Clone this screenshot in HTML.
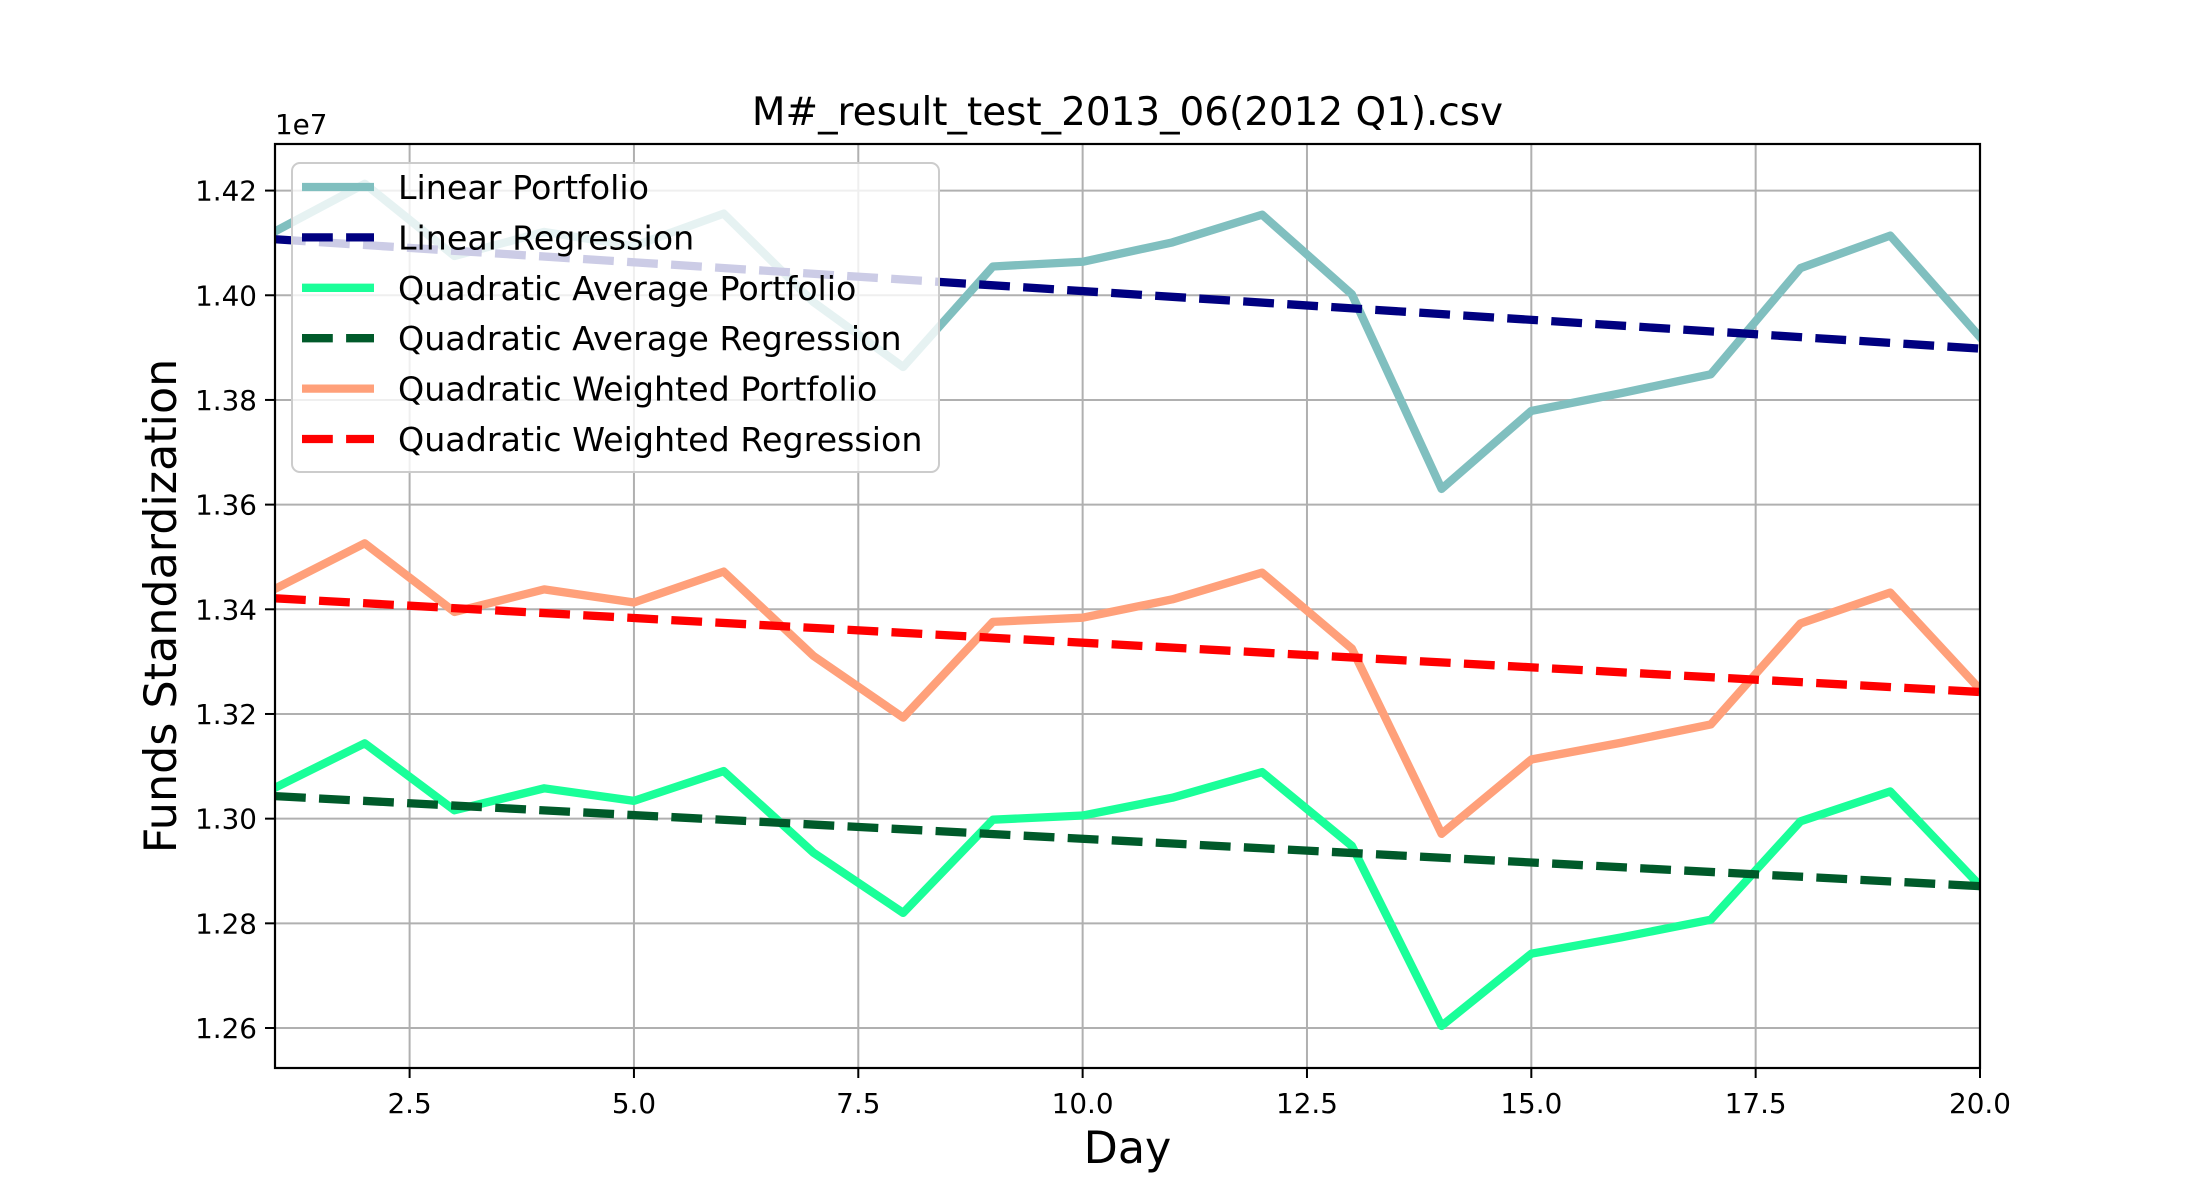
<!DOCTYPE html>
<html><head><meta charset="utf-8"><style>
html,body{margin:0;padding:0;background:#fff;}
svg{display:block;font-family:"DejaVu Sans","Liberation Sans",sans-serif;}
</style></head><body>
<svg id="chart" width="2200" height="1200" xmlns="http://www.w3.org/2000/svg"></svg>
<script>
const days = [1,2,3,4,5,6,7,8,9,10,11,12,13,14,15,16,17,18,19,20];
const linearPortfolio = [1.4122,1.4213,1.4075,1.4121,1.4094,1.4156,1.3987,1.3863,1.4055,1.4064,1.4101,1.4154,1.4002,1.3630,1.3779,1.3813,1.3849,1.4052,1.4114,1.3920];
const linearRegression = [1.4107,1.3898];
const quadAvgPortfolio = [1.3059,1.3144,1.3016,1.3058,1.3034,1.3091,1.2935,1.2820,1.2998,1.3006,1.3040,1.3089,1.2948,1.2604,1.2742,1.2773,1.2807,1.2995,1.3052,1.2872];
const quadAvgRegression = [1.3043,1.2871];
const quadWeightedPortfolio = [1.3439,1.3526,1.3395,1.3438,1.3413,1.3472,1.3311,1.3193,1.3376,1.3384,1.3419,1.3470,1.3325,1.2971,1.3113,1.3145,1.3180,1.3373,1.3432,1.3247];
const quadWeightedRegression = [1.3421,1.3242];
const xTicks = [2.5,5.0,7.5,10.0,12.5,15.0,17.5,20.0];
const yTicks = [1.26,1.28,1.30,1.32,1.34,1.36,1.38,1.40,1.42];

const L=275,R=1980,T=144,B=1068;
const xMin=1,xMax=20,yMin=1.25236,yMax=1.4289;
const sx=v=>L+(v-xMin)/(xMax-xMin)*(R-L);
const sy=v=>B-(v-yMin)/(yMax-yMin)*(B-T);
const svg=document.getElementById('chart');
const NS='http://www.w3.org/2000/svg';
function mk(tag,attrs,parent){const e=document.createElementNS(NS,tag);for(const k in attrs)e.setAttribute(k,attrs[k]);(parent||svg).appendChild(e);return e;}

const defs=mk('defs',{});
const cp=mk('clipPath',{id:'clip'},defs);mk('rect',{x:L,y:T,width:R-L,height:B-T},cp);

const grid=mk('g',{});


xTicks.forEach(t=>{mk('line',{x1:sx(t),x2:sx(t),y1:T,y2:B,stroke:'#b0b0b0','stroke-width':2},grid);});
yTicks.forEach(t=>{mk('line',{x1:L,x2:R,y1:sy(t),y2:sy(t),stroke:'#b0b0b0','stroke-width':2},grid);});

const plot=mk('g',{'clip-path':'url(#clip)'});
function line(name,xs,ys,color,dashed){
  const p=mk('polyline',{points:xs.map((x,i)=>sx(x)+','+sy(ys[i])).join(' '),fill:'none',stroke:color,'stroke-width':8.3,'stroke-linejoin':'round','stroke-linecap':dashed?'butt':'square'},plot);
  if(dashed)p.setAttribute('stroke-dasharray','30.8 13.3');
  
  
}
const regX=[days[0],days[days.length-1]];
line('linear-portfolio-line',days,linearPortfolio,'#80bfbf',false);
line('linear-regression-line',regX,linearRegression,'#000080',true);
line('quadratic-average-portfolio-line',days,quadAvgPortfolio,'#1aff99',false);
line('quadratic-average-regression-line',regX,quadAvgRegression,'#005a2a',true);
line('quadratic-weighted-portfolio-line',days,quadWeightedPortfolio,'#ffa07a',false);
line('quadratic-weighted-regression-line',regX,quadWeightedRegression,'#ff0000',true);

const frame=mk('rect',{x:L,y:T,width:R-L,height:B-T,fill:'none',stroke:'#000','stroke-width':2.2});



xTicks.forEach(t=>{
  mk('line',{x1:sx(t),x2:sx(t),y1:B,y2:B+10,stroke:'#000','stroke-width':2});
  const tx=mk('text',{x:sx(t),y:B+45,'font-size':27.8,'text-anchor':'middle',fill:'#000'});
  tx.textContent=t.toFixed(1);
  
  
});
yTicks.forEach(t=>{
  mk('line',{x1:L-10,x2:L,y1:sy(t),y2:sy(t),stroke:'#000','stroke-width':2});
  const tx=mk('text',{x:L-18,y:sy(t)+10,'font-size':27.8,'text-anchor':'end',fill:'#000'});
  tx.textContent=t.toFixed(2);
  
  
});
const off=mk('text',{x:L,y:T-10,'font-size':27.8,fill:'#000'});off.textContent='1e7';



const title=mk('text',{x:(L+R)/2,y:125,'font-size':38.9,'text-anchor':'middle',fill:'#000'});
title.textContent='M#_result_test_2013_06(2012 Q1).csv';


const xl=mk('text',{x:(L+R)/2,y:1163,'font-size':44.4,'text-anchor':'middle',fill:'#000'});
xl.textContent='Day';


const yl=mk('text',{x:0,y:0,'font-size':44.4,'text-anchor':'middle',fill:'#000',transform:'translate(176,'+((T+B)/2)+') rotate(-90)'});
yl.textContent='Funds Standardization';



const lg=mk('g',{});


mk('rect',{x:292,y:163,width:647,height:309,rx:8,fill:'#fff','fill-opacity':0.8,stroke:'#cccccc','stroke-width':2},lg);
const entries=[['Linear Portfolio','#80bfbf',false],['Linear Regression','#000080',true],['Quadratic Average Portfolio','#1aff99',false],['Quadratic Average Regression','#005a2a',true],['Quadratic Weighted Portfolio','#ffa07a',false],['Quadratic Weighted Regression','#ff0000',true]];
entries.forEach((e,i)=>{
  const y=187+i*50.4;
  const g=mk('g',{},lg);
  
  
  const l=mk('line',{x1:302,x2:374,y1:y,y2:y,stroke:e[1],'stroke-width':8.3},g);
  if(e[2])l.setAttribute('stroke-dasharray','30.8 13.3');
  const t=mk('text',{x:398,y:y+12,'font-size':33.3,fill:'#000'},g);
  t.textContent=e[0];
});
</script>
</body></html>
